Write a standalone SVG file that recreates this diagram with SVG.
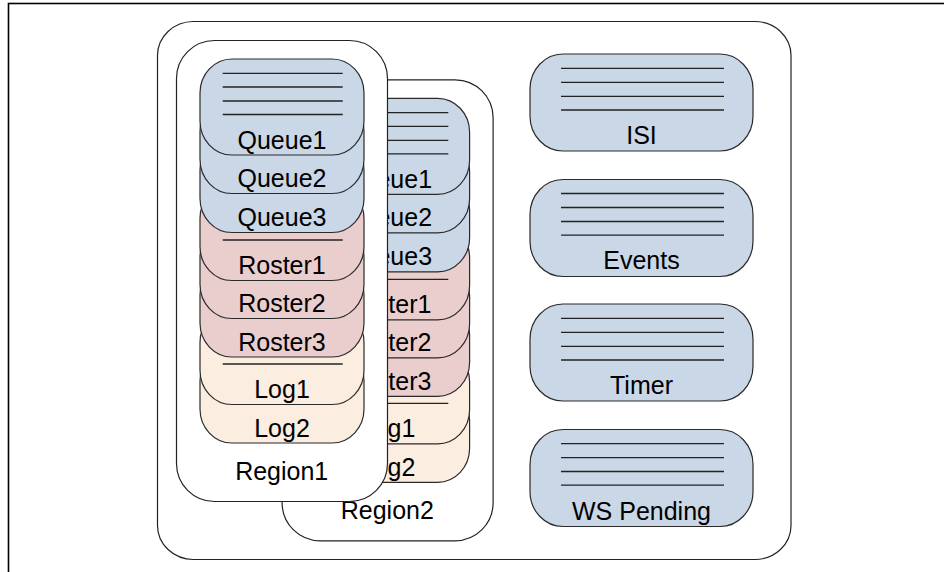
<svg xmlns="http://www.w3.org/2000/svg" width="944" height="572" viewBox="0 0 944 572">
<style>
text{font-family:"Liberation Sans",Arial,sans-serif;font-size:25px;fill:#000;text-anchor:middle}
.frame{fill:none;stroke:#000;stroke-width:1.6}
.box{fill:#fff;stroke:#222;stroke-width:1.2}
.q{fill:#c9d7e6;stroke:#2a2a2a;stroke-width:1.2}
.r{fill:#eacdcd;stroke:#2a2a2a;stroke-width:1.2}
.l{fill:#fcede1;stroke:#2a2a2a;stroke-width:1.2}
.ln{stroke:#222;stroke-width:1.3}
</style>
<rect class="frame" x="8.5" y="3.5" width="960" height="600"/>
<rect id="container" class="box" x="157.5" y="21.5" width="633.5" height="538" rx="36" ry="34"/>

<g id="region2" transform="translate(105.6,39.3)">
  <rect class="box" x="176.5" y="40.5" width="211" height="461" rx="38"/>
  <text x="281.7" y="480">Region2</text>
  <g id="r2-log2"><rect class="l" x="200" y="347" width="164" height="96" rx="32" ry="34"/><text x="282" y="436.5">Log2</text></g>
  <g id="r2-log1"><rect class="l" x="200" y="308.5" width="164" height="96" rx="32" ry="34"/>
    <line class="ln" x1="222.7" y1="364" x2="342.7" y2="364"/><text x="282" y="398">Log1</text></g>
  <g id="r2-roster3"><rect class="r" x="200" y="261" width="164" height="96" rx="32" ry="34"/><text x="282" y="350.5">Roster3</text></g>
  <g id="r2-roster2"><rect class="r" x="200" y="222.5" width="164" height="96" rx="32" ry="34"/><text x="282" y="312">Roster2</text></g>
  <g id="r2-roster1"><rect class="r" x="200" y="184.5" width="164" height="96" rx="32" ry="34"/>
    <line class="ln" x1="222.7" y1="240" x2="342.7" y2="240"/><text x="282" y="274">Roster1</text></g>
  <g id="r2-queue3"><rect class="q" x="200" y="136.5" width="164" height="96" rx="32" ry="34"/><text x="282" y="226">Queue3</text></g>
  <g id="r2-queue2"><rect class="q" x="200" y="97.5" width="164" height="96" rx="32" ry="34"/><text x="282" y="187">Queue2</text></g>
  <g id="r2-queue1"><rect class="q" x="200" y="59" width="164" height="96" rx="32" ry="34"/>
    <line class="ln" x1="222.7" y1="73.3" x2="342.7" y2="73.3"/>
    <line class="ln" x1="222.7" y1="87" x2="342.7" y2="87"/>
    <line class="ln" x1="222.7" y1="101" x2="342.7" y2="101"/>
    <line class="ln" x1="222.7" y1="114.5" x2="342.7" y2="114.5"/>
    <text x="282" y="148.5">Queue1</text></g>
</g>

<g id="region1">
  <rect class="box" x="176.5" y="40.5" width="211" height="461" rx="38"/>
  <text x="281.7" y="480">Region1</text>
  <g id="r1-log2"><rect class="l" x="200" y="347" width="164" height="96" rx="32" ry="34"/><text x="282" y="436.5">Log2</text></g>
  <g id="r1-log1"><rect class="l" x="200" y="308.5" width="164" height="96" rx="32" ry="34"/>
    <line class="ln" x1="222.7" y1="364" x2="342.7" y2="364"/><text x="282" y="398">Log1</text></g>
  <g id="r1-roster3"><rect class="r" x="200" y="261" width="164" height="96" rx="32" ry="34"/><text x="282" y="350.5">Roster3</text></g>
  <g id="r1-roster2"><rect class="r" x="200" y="222.5" width="164" height="96" rx="32" ry="34"/><text x="282" y="312">Roster2</text></g>
  <g id="r1-roster1"><rect class="r" x="200" y="184.5" width="164" height="96" rx="32" ry="34"/>
    <line class="ln" x1="222.7" y1="240" x2="342.7" y2="240"/><text x="282" y="274">Roster1</text></g>
  <g id="r1-queue3"><rect class="q" x="200" y="136.5" width="164" height="96" rx="32" ry="34"/><text x="282" y="226">Queue3</text></g>
  <g id="r1-queue2"><rect class="q" x="200" y="97.5" width="164" height="96" rx="32" ry="34"/><text x="282" y="187">Queue2</text></g>
  <g id="r1-queue1"><rect class="q" x="200" y="59" width="164" height="96" rx="32" ry="34"/>
    <line class="ln" x1="222.7" y1="73.3" x2="342.7" y2="73.3"/>
    <line class="ln" x1="222.7" y1="87" x2="342.7" y2="87"/>
    <line class="ln" x1="222.7" y1="101" x2="342.7" y2="101"/>
    <line class="ln" x1="222.7" y1="114.5" x2="342.7" y2="114.5"/>
    <text x="282" y="148.5">Queue1</text></g>
</g>

<g id="isi">
  <rect class="q" x="530" y="54" width="223" height="97" rx="33" ry="35"/>
  <line class="ln" x1="561" y1="68.3" x2="724" y2="68.3"/>
  <line class="ln" x1="561" y1="82.3" x2="724" y2="82.3"/>
  <line class="ln" x1="561" y1="96.3" x2="724" y2="96.3"/>
  <line class="ln" x1="561" y1="110" x2="724" y2="110"/>
  <text x="641.5" y="144">ISI</text>
</g>
<g id="events">
  <rect class="q" x="530" y="179.5" width="223" height="97" rx="33" ry="35"/>
  <line class="ln" x1="561" y1="193.5" x2="724" y2="193.5"/>
  <line class="ln" x1="561" y1="207.5" x2="724" y2="207.5"/>
  <line class="ln" x1="561" y1="221.5" x2="724" y2="221.5"/>
  <line class="ln" x1="561" y1="235.2" x2="724" y2="235.2"/>
  <text x="641.5" y="269">Events</text>
</g>
<g id="timer">
  <rect class="q" x="530" y="304" width="223" height="97" rx="33" ry="35"/>
  <line class="ln" x1="561" y1="318.3" x2="724" y2="318.3"/>
  <line class="ln" x1="561" y1="332.3" x2="724" y2="332.3"/>
  <line class="ln" x1="561" y1="346.3" x2="724" y2="346.3"/>
  <line class="ln" x1="561" y1="360" x2="724" y2="360"/>
  <text x="641.5" y="394">Timer</text>
</g>
<g id="ws-pending">
  <rect class="q" x="530" y="429.5" width="223" height="97" rx="33" ry="35"/>
  <line class="ln" x1="561" y1="443.7" x2="724" y2="443.7"/>
  <line class="ln" x1="561" y1="457.7" x2="724" y2="457.7"/>
  <line class="ln" x1="561" y1="471.5" x2="724" y2="471.5"/>
  <line class="ln" x1="561" y1="485.2" x2="724" y2="485.2"/>
  <text x="641.5" y="519.5">WS Pending</text>
</g>
<g id="connectors"/>
</svg>
